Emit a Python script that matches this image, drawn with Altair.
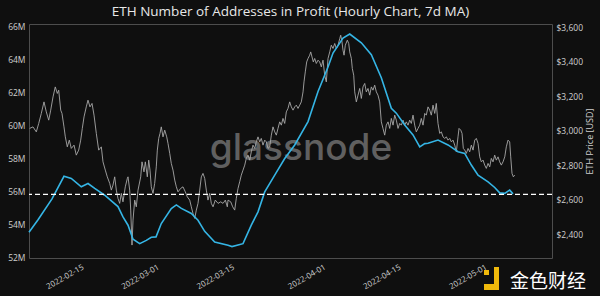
import altair as alt
import pandas as pd

# ---- data ----
START = "2022-02-05 08:00"
END = "2022-05-13 16:00"

# ETH price (hourly, right axis), days since START
price_days = [0.13, 0.74, 1.36, 1.81, 2.29, 2.79, 3.22, 3.67, 4.04, 4.47, 4.89, 5.27, 5.53, 5.90, 6.14, 6.51,
              6.76, 7.13, 7.50, 7.87, 8.38, 8.80, 9.25, 9.62, 9.92, 10.24, 10.66, 10.98, 11.35, 11.73, 12.10,
              12.53, 12.97, 13.46, 13.77, 14.20, 14.57, 15.02, 15.32, 15.63, 15.95, 16.25, 16.56, 16.88, 17.18,
              17.49, 17.92, 18.30, 18.43, 18.74, 18.93, 19.17, 19.36, 19.67, 19.97, 20.29, 20.79, 21.03, 21.40,
              21.65, 22.02, 22.28, 22.52, 22.76, 23.08, 23.39, 23.69, 23.88, 24.14, 24.38, 24.62, 24.94, 25.26,
              25.63, 25.87, 26.19, 26.48, 26.80, 27.12, 27.42, 27.73, 28.23, 28.66, 29.09, 29.46, 29.91, 30.21,
              30.52, 30.84, 31.14, 31.45, 31.77, 32.07, 32.38, 32.70, 33.00, 33.31, 33.63, 33.93, 34.25, 34.67,
              35.18, 35.68, 36.11, 36.54, 36.91, 37.04, 37.54, 37.91, 38.28, 38.58, 38.90, 39.21, 39.51, 39.83,
              40.15, 40.44, 40.76, 41.08, 41.37, 41.69, 42.01, 42.30, 42.62, 42.94, 43.23, 43.55, 43.87, 44.17,
              44.48, 44.80, 45.10, 45.41, 45.73, 46.03, 46.34, 46.66, 46.96, 47.27, 47.59, 47.89, 48.20, 48.52,
              48.82, 49.14, 49.45, 49.75, 50.07, 50.38, 50.68, 51.00, 51.18, 51.42, 51.68, 51.93, 52.24, 52.43,
              52.67, 52.91, 53.17, 53.47, 53.79, 54.10, 54.40, 54.72, 55.03, 55.33, 55.52, 55.65, 55.97, 56.26,
              56.58, 56.90, 57.19, 57.51, 57.83, 58.01, 58.25, 58.44, 58.63, 58.87, 59.24, 59.50, 59.69, 59.99,
              60.17, 60.43, 60.62, 60.92, 61.23, 61.55, 61.85, 62.16, 62.48, 62.78, 63.09, 63.41, 63.71, 64.02,
              64.34, 64.64, 64.95, 65.27, 65.57, 65.88, 66.20, 66.50, 66.82, 67.13, 67.43, 67.75, 68.06, 68.36,
              68.68, 68.99, 69.29, 69.61, 69.92, 70.22, 70.54, 70.85, 71.15, 71.47, 71.78, 72.08, 72.40, 72.72,
              73.01, 73.33, 73.65, 73.94, 74.26, 74.58, 74.87, 75.19, 75.51, 75.80, 76.12, 76.44, 76.74, 77.05,
              77.37, 77.67, 77.98, 78.30, 78.60, 78.91, 79.23, 79.53, 79.84, 80.03, 80.35, 80.59, 80.83, 81.09,
              81.39, 81.71, 82.02, 82.32, 82.64, 82.95, 83.25, 83.57, 83.88, 84.18, 84.50, 84.81, 85.11, 85.43,
              85.74, 86.04, 86.36, 86.67, 86.97, 87.29, 87.60, 87.90, 88.22, 88.54, 88.83, 89.15, 89.46, 89.65,
              89.89, 90.14, 90.40]
price_usd = [3013, 3022, 2993, 3042, 3100, 3167, 3109, 3061, 3119, 3196, 3254, 3216, 3235, 3119, 3100, 3022,
             2964, 2906, 2945, 2897, 2916, 2858, 2887, 2945, 3013, 3080, 3138, 3177, 3138, 3158, 3090,
             2984, 2887, 2906, 2819, 2771, 2732, 2694, 2655, 2684, 2732, 2655, 2607, 2578, 2636,
             2587, 2674, 2723, 2732, 2655, 2539, 2336, 2481, 2597, 2558, 2655, 2732, 2819, 2761,
             2819, 2732, 2829, 2771, 2674, 2636, 2694, 2790, 2887, 2955, 2984, 3022, 2964, 3003,
             2964, 2926, 2868, 2810, 2771, 2713, 2674, 2645, 2665, 2674, 2645, 2616, 2597, 2558,
             2520, 2491, 2539, 2578, 2655, 2732, 2752, 2723, 2655, 2597, 2636, 2578, 2558, 2597,
             2578, 2587, 2578, 2597, 2558, 2597, 2587, 2558, 2539, 2607, 2665, 2703, 2742, 2771,
             2800, 2839, 2858, 2829, 2877, 2916, 2897, 2935, 2964, 2935, 2955, 2916, 2945, 2935,
             2897, 2906, 2974, 3022, 2993, 2974, 3013, 3051, 3032, 3071, 3042, 3109, 3129, 3167,
             3138, 3119, 3138, 3148, 3129, 3148, 3167, 3225, 3283, 3341, 3399, 3419, 3438, 3457,
             3428, 3399, 3419, 3390, 3409, 3399, 3370, 3409, 3322, 3283, 3361, 3419, 3457, 3496,
             3477, 3506, 3477, 3496, 3534, 3554, 3515, 3467, 3438, 3496, 3525, 3506, 3457, 3419,
             3361, 3322, 3225, 3167, 3206, 3245, 3187, 3254, 3274, 3225, 3245, 3206, 3254, 3235,
             3264, 3225, 3206, 3167, 3051, 3013, 2974, 3032, 3051, 3013, 3071, 3032, 3090, 3061,
             3013, 3042, 3032, 3061, 3032, 3051, 3032, 3061, 3042, 3090, 3032, 2993, 3013, 3032,
             3071, 3032, 3100, 3090, 3138, 3119, 3090, 3148, 3100, 3158, 3042, 2984, 2993, 2964,
             2955, 2964, 2945, 2955, 2935, 2945, 2916, 2877, 2964, 3013, 3003, 2984, 2897, 2887,
             2868, 2897, 2877, 2916, 2887, 2945, 2955, 2926, 2848, 2819, 2829, 2800, 2781, 2810,
             2790, 2839, 2819, 2858, 2829, 2848, 2819, 2800, 2819, 2848, 2906, 2945, 2935, 2848,
             2752, 2732, 2742]

# Addresses in profit, 7d MA (millions, left axis), days since START
addr_days = [0.00, 1.68, 4.28, 6.51, 7.87, 9.73, 10.98, 12.23, 14.09, 16.56, 17.49, 18.43, 19.36, 20.60,
             21.83, 22.76, 23.64, 24.62, 26.48, 27.42, 28.35, 30.21, 31.45, 32.70, 34.56, 37.04, 37.78,
             39.83, 41.37, 42.62, 43.87, 45.73, 47.59, 49.45, 51.93, 53.79, 55.65, 56.58, 58.44, 59.69,
             61.85, 63.71, 65.57, 67.43, 68.36, 69.92, 71.47, 72.72, 73.65, 74.26, 76.12, 77.98, 79.84,
             81.09, 82.32, 83.57, 85.43, 86.67, 87.60, 88.54, 89.46, 90.08]
addr_m = [53.52, 54.28, 55.55, 56.92, 56.79, 56.28, 56.48, 56.18, 55.77, 55.08, 54.45, 53.95, 53.10, 52.83,
          53.03, 53.22, 53.24, 54.05, 54.96, 55.18, 54.97, 54.66, 54.25, 53.58, 52.93, 52.73, 52.65,
          52.83, 53.95, 54.76, 55.97, 56.99, 58.00, 58.82, 60.24, 62.06, 63.55, 64.40, 65.31, 65.55,
          65.02, 64.30, 62.90, 61.05, 60.75, 60.03, 59.43, 58.70, 58.90, 58.92, 59.12, 58.82, 58.41,
          58.31, 57.60, 56.99, 56.58, 56.24, 55.91, 55.88, 56.08, 55.85]

ref_level_m = 55.82
left_ticks = [52, 54, 56, 58, 60, 62, 64, 66]
right_ticks = [2400, 2600, 2800, 3000, 3200, 3400, 3600]
x_ticks = [(2022, 2, 15), (2022, 3, 1), (2022, 3, 15), (2022, 4, 1), (2022, 4, 15), (2022, 5, 1)]

start = pd.Timestamp(START)
price_df = pd.DataFrame({"date": start + pd.to_timedelta(price_days, unit="D"), "price": price_usd})
addr_df = pd.DataFrame({"date": start + pd.to_timedelta(addr_days, unit="D"), "addr": addr_m})

LABEL = "#cfcfcf"
FONT = "Open Sans"

x_enc = alt.X(
    "date:T",
    scale=alt.Scale(domain=[pd.Timestamp(START).isoformat(), pd.Timestamp(END).isoformat()]),
    axis=alt.Axis(
        values=[alt.DateTime(year=y, month=m, date=d) for y, m, d in x_ticks],
        format="%Y-%m-%d", labelAngle=330, labelAlign="right", labelBaseline="top",
        labelPadding=5, labelFontSize=8, labelColor=LABEL, labelFont=FONT, labelOverlap=False,
        ticks=False, domain=False, grid=False, title=None,
    ),
)

watermark = alt.Chart(pd.DataFrame({"t": ["glassnode"]})).mark_text(
    font="Inter", fontSize=37, fontWeight=500, color="#606060", align="center", baseline="alphabetic"
).encode(text="t:N", x=alt.value(272), y=alt.value(136))

price_line = alt.Chart(price_df).mark_line(color="#a8a8a8", strokeWidth=0.9).encode(
    x=x_enc,
    y=alt.Y(
        "price:Q",
        scale=alt.Scale(domain=[2261, 3619], nice=False, zero=False),
        axis=alt.Axis(
            orient="right", values=right_ticks, format="$,.0f", labelFontSize=8.5, labelColor=LABEL,
            labelFont=FONT, labelPadding=4, labelOverlap=False, ticks=False, domain=False, grid=False,
            title="ETH Price [USD]", titleAngle=270, titleColor=LABEL, titleFont=FONT, titleFontSize=9,
            titleFontWeight="normal", titleX=37, titleY=117, titleAlign="center", titleBaseline="middle",
        ),
    ),
)

left_axis = alt.Axis(
    orient="left", values=left_ticks, labelExpr="datum.value + 'M'", labelFontSize=8.5,
    labelColor=LABEL, labelFont=FONT, labelPadding=4, labelOverlap=False, ticks=False,
    domain=False, grid=False, title=None,
)
left_scale = alt.Scale(domain=[51.96, 66.16], nice=False, zero=False)
addr_line = alt.Chart(addr_df).mark_line(color="#35b5e5", strokeWidth=1.6).encode(
    x=x_enc,
    y=alt.Y("addr:Q", scale=left_scale, axis=left_axis),
)
ref_rule = alt.Chart(pd.DataFrame({"lvl": [ref_level_m]})).mark_rule(
    color="#ffffff", strokeWidth=1.2, strokeDash=[5, 3]
).encode(y=alt.Y("lvl:Q", scale=left_scale, axis=left_axis))

left_layer = alt.layer(addr_line, ref_rule)

logo_text = alt.Chart(pd.DataFrame({"t": ["金色财经"]})).mark_text(
    font="Noto Sans CJK SC", fontSize=19, color="#ffffff", align="left", baseline="middle"
).encode(text="t:N", x=alt.value(481), y=alt.value(258))
logo_sq = alt.Chart(pd.DataFrame({"k": [0]})).mark_rect(color="#f0b90b").encode(
    x=alt.value(455), x2=alt.value(460), y=alt.value(246), y2=alt.value(251))
logo_v = alt.Chart(pd.DataFrame({"k": [0]})).mark_rect(color="#f0b90b").encode(
    x=alt.value(465), x2=alt.value(470), y=alt.value(243), y2=alt.value(266))
logo_h = alt.Chart(pd.DataFrame({"k": [0]})).mark_rect(color="#f0b90b").encode(
    x=alt.value(455), x2=alt.value(470), y=alt.value(260), y2=alt.value(266))

chart = alt.layer(watermark, price_line, left_layer, logo_sq, logo_v, logo_h, logo_text).resolve_scale(
    y="independent"
).properties(
    width=523, height=234,
    padding={"left": 29, "top": 24, "right": 48, "bottom": 38},
    autosize=alt.AutoSizeParams(type="none"),
    background="#0f0f0f",
    title=alt.TitleParams(
        text="ETH Number of Addresses in Profit (Hourly Chart, 7d MA)", color="#e8e8e8", fontSize=13.5,
        font=FONT, fontWeight="normal", anchor="middle", offset=4,
    ),
).configure_view(stroke="#4d4d4d", strokeWidth=1)

chart.save("out.html", embed_options={"renderer": "svg", "actions": False})
